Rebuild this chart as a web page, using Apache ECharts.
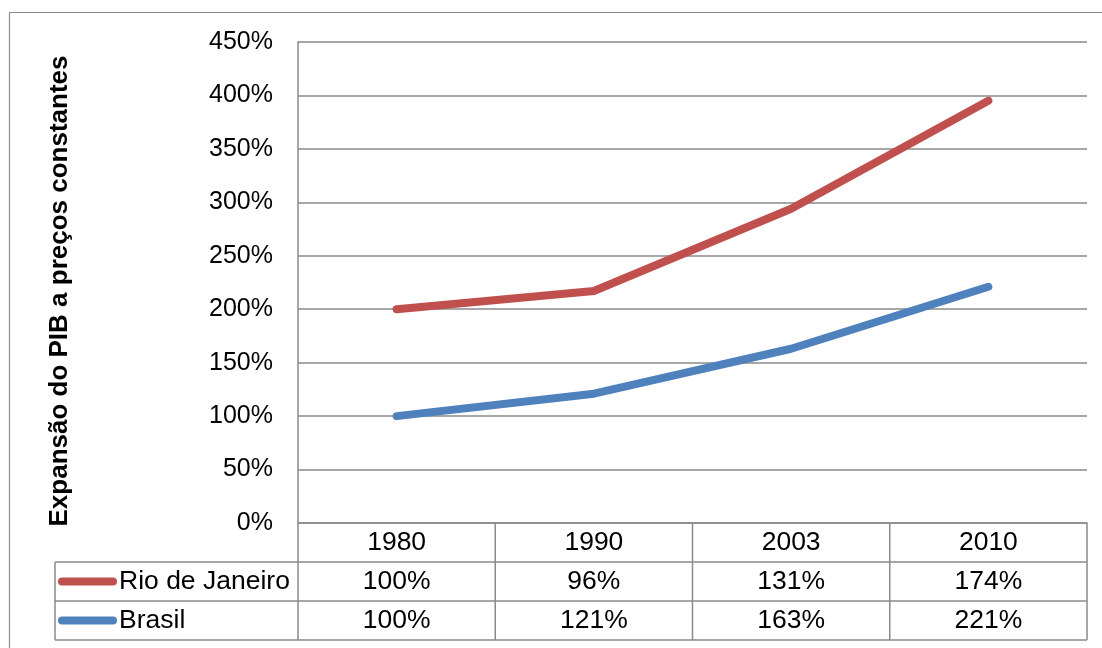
<!DOCTYPE html>
<html>
<head>
<meta charset="utf-8">
<script src="https://cdn.jsdelivr.net/npm/echarts@6/dist/echarts.min.js"></script>
<style>
  html, body { margin: 0; padding: 0; background: #ffffff; }
  #chart { width: 1102px; height: 648px; }
</style>
</head>
<body>
<div id="chart"></div>
<script>
// GDP growth at constant prices, indexed (%), stacked line with data table
const years = ['1980', '1990', '2003', '2010'];
const brasilValues = [100, 121, 163, 221];
const rioValues = [100, 96, 131, 174];
const seriesNames = ['Rio de Janeiro', 'Brasil'];
const seriesColors = ['#C0504D', '#4F81BD'];
const yTicks = [0, 50, 100, 150, 200, 250, 300, 350, 400, 450];
const axisTitle = 'Expansão do PIB a preços constantes';

const FONT = '"Liberation Sans", Arial, sans-serif';
const GRID_COLOR = '#8a8a8a';

const chart = echarts.init(document.getElementById('chart'), null, { renderer: 'canvas' });

chart.setOption({
  animation: false,
  backgroundColor: '#ffffff',
  grid: { left: 298, right: 15, top: 42, bottom: 125, containLabel: false },
  xAxis: {
    type: 'category',
    data: years,
    boundaryGap: true,
    axisLine: { show: true, lineStyle: { color: GRID_COLOR, width: 1.5 } },
    axisTick: { show: false },
    axisLabel: { show: false },
    splitLine: { show: false }
  },
  yAxis: {
    type: 'value',
    min: yTicks[0],
    max: yTicks[yTicks.length - 1],
    interval: 50,
    axisLine: { show: true, lineStyle: { color: GRID_COLOR, width: 1.5 } },
    axisTick: { show: false },
    axisLabel: {
      margin: 25,
      color: '#000000',
      fontFamily: FONT,
      fontSize: 25,
      formatter: v => v + '%'
    },
    splitLine: { show: true, lineStyle: { color: GRID_COLOR, width: 1.5 } }
  },
  series: [
    {
      name: seriesNames[1],
      type: 'line',
      stack: 'total',
      data: brasilValues,
      symbol: 'none',
      lineStyle: { color: seriesColors[1], width: 8, cap: 'round', join: 'round' },
      itemStyle: { color: seriesColors[1] }
    },
    {
      name: seriesNames[0],
      type: 'line',
      stack: 'total',
      data: rioValues,
      symbol: 'none',
      lineStyle: { color: seriesColors[0], width: 8, cap: 'round', join: 'round' },
      itemStyle: { color: seriesColors[0] }
    }
  ]
});

// Data table under the plot, laid out from the axis scales
function buildTable() {
  const centers = years.map((_, i) => chart.convertToPixel({ xAxisIndex: 0 }, i));
  const band = centers.length > 1 ? centers[1] - centers[0] : 197;
  const plotLeft = centers[0] - band / 2;
  const plotRight = centers[centers.length - 1] + band / 2;
  const baseY = chart.convertToPixel({ yAxisIndex: 0 }, 0);
  const rowH = 39;
  const tableLeft = 55;
  const rowTop = [baseY, baseY + rowH, baseY + 2 * rowH];
  const tableBottom = baseY + 3 * rowH;
  const lineStyle = { stroke: GRID_COLOR, lineWidth: 1.5 };
  const els = [];

  // outer frame of the chart area
  els.push({ type: 'rect', shape: { x: 9.5, y: 12.5, width: 1120, height: 700 },
    style: { fill: null, stroke: '#8a8a8a', lineWidth: 1.2 }, silent: true });

  // vertical rules at category boundaries
  for (let k = 0; k <= years.length; k++) {
    const x = plotLeft + k * band;
    els.push({ type: 'line', shape: { x1: x, y1: baseY, x2: x, y2: tableBottom }, style: lineStyle });
  }
  els.push({ type: 'line', shape: { x1: tableLeft, y1: rowTop[1], x2: tableLeft, y2: tableBottom }, style: lineStyle });

  // horizontal rules
  [rowTop[1], rowTop[2], tableBottom].forEach(y => {
    els.push({ type: 'line', shape: { x1: tableLeft, y1: y, x2: plotRight, y2: y }, style: lineStyle });
  });

  const cellText = (txt, x, y, align) => ({
    type: 'text', x: x, y: y, scaleX: 1.06,
    style: { text: txt, fill: '#000000', font: '25px ' + FONT, textAlign: align, textVerticalAlign: 'middle' }
  });

  // header row: years
  years.forEach((yr, i) => els.push(cellText(yr, centers[i], rowTop[0] + rowH / 2 + 1, 'center')));

  // series rows with legend keys
  const rows = [rioValues, brasilValues];
  rows.forEach((vals, r) => {
    const cy = rowTop[r + 1] + rowH / 2 + 1;
    els.push({ type: 'line', shape: { x1: 62, y1: cy - 1, x2: 113, y2: cy - 1 },
      style: { stroke: seriesColors[r], lineWidth: 8, lineCap: 'round' } });
    els.push(cellText(seriesNames[r], 119, cy, 'left'));
    vals.forEach((v, i) => els.push(cellText(v + '%', centers[i], cy, 'center')));
  });

  // vertical axis title
  els.push({
    type: 'text', x: 60, y: 291, rotation: Math.PI / 2,
    style: { text: axisTitle, fill: '#000000', font: 'bold 26px ' + FONT, textAlign: 'center', textVerticalAlign: 'middle' }
  });

  chart.setOption({ graphic: { elements: els } });
}

buildTable();
</script>
</body>
</html>
